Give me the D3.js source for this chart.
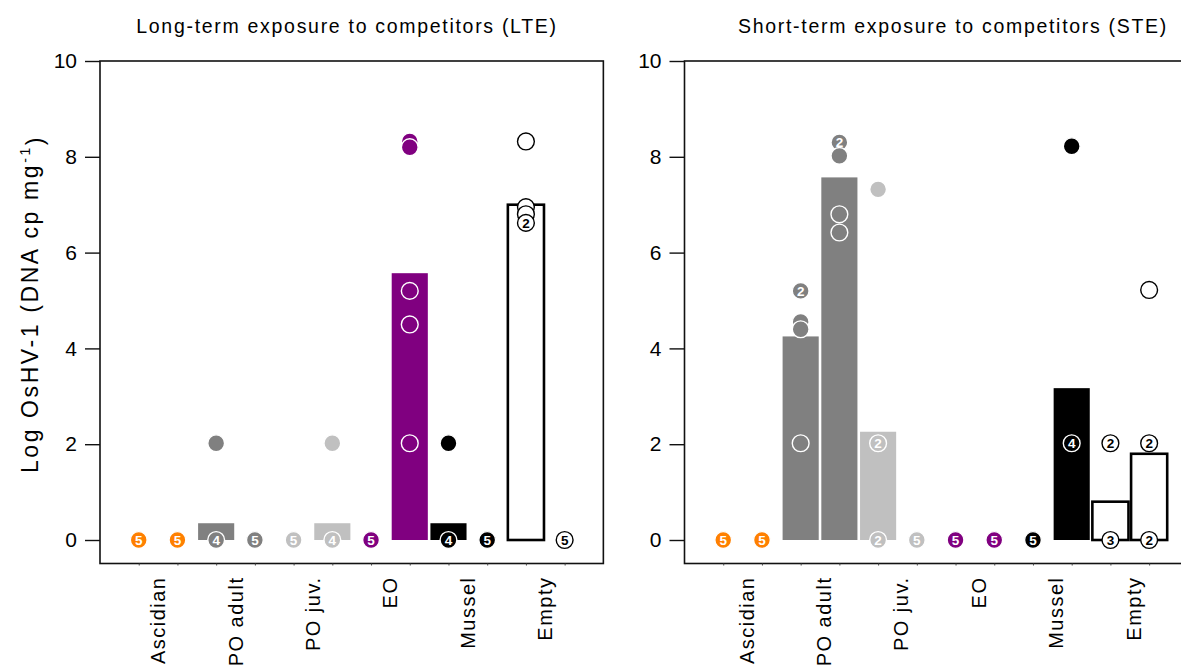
<!DOCTYPE html>
<html lang="en">
<head>
  <meta charset="UTF-8">
  <title>OsHV-1 load by competitor</title>
  <style>
    body { margin: 0; background: #fff; }
    text { font-family: "Liberation Sans", Arial, sans-serif; }
  </style>
</head>
<body>
  <div id="chart"></div>
  <script src="https://d3js.org/d3.v7.min.js"></script>
  <script>

  // categories (two bars per category, 12 slots per panel)
  const categories = ["Ascidian", "PO adult", "PO juv.", "EO", "Mussel", "Empty"];
  const colors = ["#ff8000", "#808080", "#c0c0c0", "#800080", "#000000", "#ffffff"];

  // bar heights (mean log load), one per slot
  const lteBars = [0, 0, 0.35, 0, 0, 0.35, 0, 5.57, 0.35, 0, 7.0, 0];
  const steBars = [0, 0, 4.25, 7.57, 2.26, 0, 0, 0, 0, 3.17, 0.8, 1.8];

  // individual samples per slot: [value, number of overlapping samples]
  const ltePoints = [
    [[0, 5]],
    [[0, 5]],
    [[2.02, 1], [0, 4]],
    [[0, 5]],
    [[0, 5]],
    [[2.02, 1], [0, 4]],
    [[0, 5]],
    [[8.32, 1], [8.2, 1], [5.2, 1], [4.5, 1], [2.02, 1]],
    [[2.02, 1], [0, 4]],
    [[0, 5]],
    [[8.32, 1], [6.95, 1], [6.8, 1], [6.62, 2]],
    [[0, 5]]
  ];
  const stePoints = [
    [[0, 5]],
    [[0, 5]],
    [[5.2, 2], [4.55, 1], [4.4, 1], [2.02, 1]],
    [[8.3, 2], [8.02, 1], [6.8, 1], [6.42, 1]],
    [[7.32, 1], [2.02, 2], [0, 2]],
    [[0, 5]],
    [[0, 5]],
    [[0, 5]],
    [[0, 5]],
    [[8.22, 1], [2.02, 4]],
    [[2.02, 2], [0, 3]],
    [[5.22, 1], [2.02, 2], [0, 2]]
  ];

  const yTicks = [0, 2, 4, 6, 8, 10];

  const width = 1181, height = 669;
  const step = 38.72;
  const boxTop = 61, boxBottom = 563.5;

  const panels = [
    {title: "Long-term exposure to competitors (LTE)", left: 100, titleX: 347, labelShift: 0,
     bars: lteBars, points: ltePoints},
    {title: "Short-term exposure to competitors (STE)", left: 684.5, titleX: 953, labelShift: 4,
     bars: steBars, points: stePoints}
  ];

  const svg = d3.select("#chart").append("svg")
      .attr("width", width)
      .attr("height", height);

  const y = d3.scaleLinear().domain([0, 10]).range([540, 61]);
  const colorOf = i => colors[Math.floor(i / 2)];

  panels.forEach(p => {
    const x = d3.scaleLinear().domain([0, 13]).range([p.left, p.left + 13 * step]);
    const g = svg.append("g");

    // title
    g.append("text")
        .attr("x", p.titleX)
        .attr("y", 33)
        .attr("text-anchor", "middle")
        .style("font-size", "19.5px")
        .style("letter-spacing", "1.7px")
        .text(p.title);

    // box
    g.append("rect")
        .attr("x", x(0))
        .attr("y", boxTop)
        .attr("width", x(13) - x(0))
        .attr("height", boxBottom - boxTop)
        .attr("fill", "none")
        .attr("stroke", "#111")
        .attr("stroke-width", 1.6);

    // y axis
    const ya = g.append("g")
        .attr("transform", "translate(" + x(0) + ",0)")
        .call(d3.axisLeft(y).tickValues(yTicks).tickSize(15).tickPadding(8));
    ya.select(".domain").remove();
    ya.selectAll("line").attr("stroke", "#111").attr("stroke-width", 1.4);
    ya.selectAll("text").style("font-size", "21px").attr("fill", "#000");

    // x axis (small ticks)
    const xa = g.append("g")
        .attr("transform", "translate(0," + boxBottom + ")")
        .call(d3.axisBottom(x).tickValues(d3.range(1, 13)).tickSize(2).tickSizeOuter(0).tickFormat(""));
    xa.select(".domain").remove();
    xa.selectAll("line").attr("stroke", "#444");

    // category labels
    categories.forEach((c, i) => {
      const lx = x(2 * i + 1.5) + p.labelShift;
      g.append("text")
          .attr("transform", "translate(" + lx + ",576.5) rotate(-90)")
          .attr("text-anchor", "end")
          .attr("dominant-baseline", "central")
          .style("font-size", "20px")
          .style("letter-spacing", "1.5px")
          .text(c);
    });

    // bars
    const barW = step - 2.6;
    g.selectAll("rect.bar")
      .data(p.bars.map((v, i) => ({v: v, i: i})).filter(d => d.v > 0))
      .enter().append("rect")
        .attr("class", "bar")
        .attr("x", d => x(d.i + 1) - barW / 2)
        .attr("y", d => y(d.v))
        .attr("width", barW)
        .attr("height", d => y(0) - y(d.v))
        .attr("fill", d => colorOf(d.i))
        .attr("stroke", d => colorOf(d.i) === "#ffffff" ? "#000" : "none")
        .attr("stroke-width", 2.6);

    // sample points
    const pts = [];
    p.points.forEach((list, i) => list.forEach(pt => pts.push({i: i, v: pt[0], n: pt[1]})));
    const pg = g.selectAll("g.pt")
      .data(pts)
      .enter().append("g")
        .attr("class", "pt")
        .attr("transform", d => "translate(" + x(d.i + 1) + "," + y(d.v) + ")");
    pg.append("circle")
        .attr("r", 8.4)
        .attr("fill", d => colorOf(d.i))
        .attr("stroke", d => colorOf(d.i) === "#ffffff" ? "#000" : "#fff")
        .attr("stroke-width", 1.4);
    pg.filter(d => d.n > 1).append("text")
        .attr("text-anchor", "middle")
        .attr("dy", "0.36em")
        .style("font-size", "13.5px")
        .style("font-weight", "bold")
        .attr("fill", d => colorOf(d.i) === "#ffffff" ? "#000" : "#fff")
        .text(d => d.n);
  });

  // shared y axis title
  const yt = svg.append("text")
      .attr("transform", "translate(38,304) rotate(-90)")
      .attr("text-anchor", "middle")
      .style("font-size", "23px")
      .style("letter-spacing", "2.6px");
  yt.append("tspan").text("Log OsHV-1 (DNA cp mg");
  yt.append("tspan").attr("dy", "-0.55em").style("font-size", "14px").text("-1");
  yt.append("tspan").attr("dy", "0.55em").text(")");

  </script>
</body>
</html>
